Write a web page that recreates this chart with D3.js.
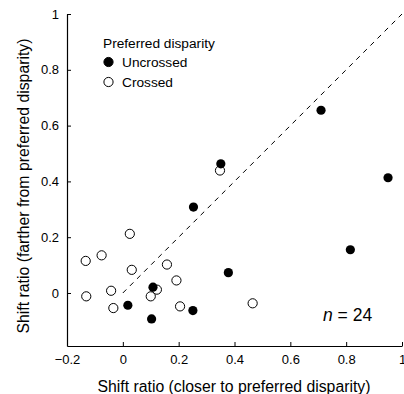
<!DOCTYPE html>
<html>
<head>
<meta charset="utf-8">
<script src="https://cdn.jsdelivr.net/npm/d3@7"></script>
<style>
  body { margin: 0; background: #fff; }
  text { font-family: "Liberation Sans", Arial, sans-serif; fill: #000; }
</style>
</head>
<body>
<script>
// shift ratios
var uncrossedX = [0.351, 0.253, 0.950, 0.815, 0.378, 0.108, 0.018, 0.103, 0.251, 0.710];
var uncrossedY = [0.463, 0.308, 0.413, 0.155, 0.073, 0.021, -0.044, -0.093, -0.063, 0.655];
var crossedX = [0.348, 0.025, -0.076, -0.133, 0.032, 0.158, 0.192, -0.042, -0.131, -0.034, 0.122, 0.100, 0.205, 0.465];
var crossedY = [0.439, 0.212, 0.135, 0.115, 0.083, 0.102, 0.045, 0.008, -0.012, -0.054, 0.012, -0.012, -0.048, -0.037];
var xTicks = [-0.2, 0, 0.2, 0.4, 0.6, 0.8, 1];
var yTicks = [0, 0.2, 0.4, 0.6, 0.8, 1];
var legendLabels = ["Uncrossed", "Crossed"];

var W = 404, H = 394;
var svg = d3.select("body").append("svg").attr("width", W).attr("height", H);

var x = d3.scaleLinear().domain([-0.2, 1]).range([67, 402]);
var y = d3.scaleLinear().domain([-0.19, 1]).range([346, 14]);

var fmt = function(d) { return d === 0 ? "0" : String(d).replace("-", "\u2212"); };

// axes, ticks pointing inward
var gx = svg.append("g").attr("transform", "translate(0," + y(-0.19) + ")")
    .call(d3.axisBottom(x).tickValues(xTicks).tickSizeInner(-4).tickSizeOuter(0).tickPadding(9).tickFormat(fmt));
var gy = svg.append("g").attr("transform", "translate(" + x(-0.2) + ",0)")
    .call(d3.axisLeft(y).tickValues(yTicks).tickSizeInner(-4).tickSizeOuter(0).tickPadding(8).tickFormat(fmt));
[gx, gy].forEach(function(g) {
    g.select(".domain").attr("stroke", "#000").attr("stroke-width", 1.2);
    g.selectAll(".tick line").attr("stroke", "#000");
    g.selectAll(".tick text").style("font-size", "13px").attr("font-family", null);
});

// unity line
svg.append("line")
    .attr("x1", x(0)).attr("y1", y(0)).attr("x2", x(1)).attr("y2", y(1))
    .attr("stroke", "#000").attr("stroke-width", 1).attr("stroke-dasharray", "5,5");

var r = 4.6;
svg.append("g").selectAll("circle").data(crossedX).join("circle")
    .attr("cx", function(d) { return x(d); })
    .attr("cy", function(d, i) { return y(crossedY[i]); })
    .attr("r", r).attr("fill", "#fff").attr("stroke", "#000").attr("stroke-width", 1);
svg.append("g").selectAll("circle").data(uncrossedX).join("circle")
    .attr("cx", function(d) { return x(d); })
    .attr("cy", function(d, i) { return y(uncrossedY[i]); })
    .attr("r", r).attr("fill", "#000");

// legend
svg.append("text").attr("x", 103).attr("y", 47.5).style("font-size", "13.7px").text("Preferred disparity");
legendLabels.forEach(function(l, i) {
    var ly = 62 + i * 20;
    svg.append("circle").attr("cx", 108.5).attr("cy", ly).attr("r", r)
        .attr("fill", i === 0 ? "#000" : "#fff").attr("stroke", "#000").attr("stroke-width", 1);
    svg.append("text").attr("x", 122).attr("y", ly + 5).style("font-size", "13.7px").text(l);
});

// n label
var nt = svg.append("text").attr("x", 323).attr("y", 321).style("font-size", "17.5px");
nt.append("tspan").style("font-style", "italic").text("n");
nt.append("tspan").text(" = 24");

// axis titles
svg.append("text").attr("x", 234).attr("y", 392).attr("text-anchor", "middle")
    .style("font-size", "15.8px").text("Shift ratio (closer to preferred disparity)");
svg.append("text").attr("transform", "translate(29,186) rotate(-90)").attr("text-anchor", "middle")
    .style("font-size", "15.8px").text("Shift ratio (farther from preferred disparity)");
</script>
</body>
</html>
